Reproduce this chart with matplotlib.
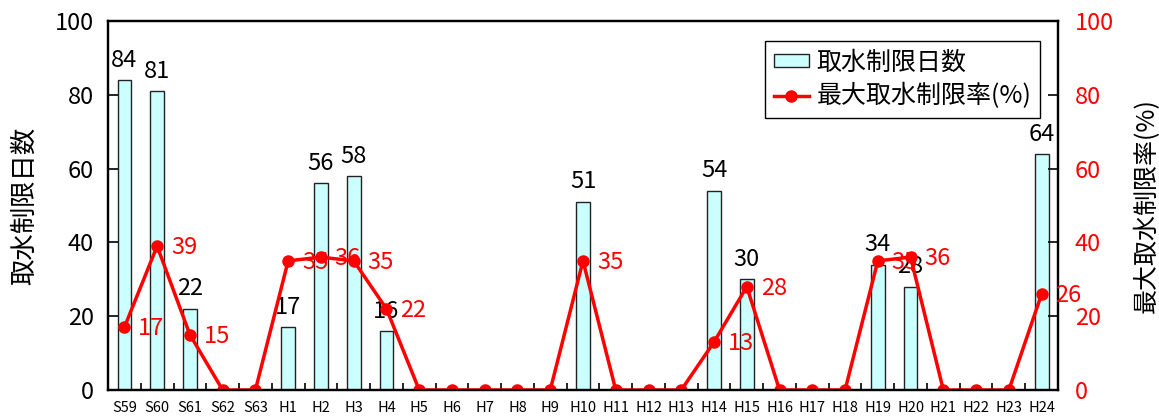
import numpy as np
import matplotlib
matplotlib.use('Agg')
import matplotlib.pyplot as plt
from matplotlib.ticker import FixedLocator

plt.rcParams['font.family'] = ['Noto Sans CJK JP', 'DejaVu Sans']

years = ['S59', 'S60', 'S61', 'S62', 'S63',
         'H1', 'H2', 'H3', 'H4', 'H5', 'H6', 'H7', 'H8', 'H9', 'H10',
         'H11', 'H12', 'H13', 'H14', 'H15', 'H16', 'H17', 'H18', 'H19', 'H20',
         'H21', 'H22', 'H23', 'H24']
days = [84, 81, 22, 0, 0, 17, 56, 58, 16, 0, 0, 0, 0, 0, 51,
        0, 0, 0, 54, 30, 0, 0, 0, 34, 28, 0, 0, 0, 64]
rate = [17, 39, 15, 0, 0, 35, 36, 35, 22, 0, 0, 0, 0, 0, 35,
        0, 0, 0, 13, 28, 0, 0, 0, 35, 36, 0, 0, 0, 26]

x = np.arange(len(years))

fig = plt.figure(figsize=(11.59, 4.16), dpi=100)
ax1 = fig.add_axes([108 / 1159, 26 / 416, 950 / 1159, 369 / 416])
ax2 = ax1.twinx()

bars = ax1.bar(x, days, width=0.42, color='#ccffff', edgecolor='#222222',
               linewidth=1.0, label='取水制限日数')
line, = ax2.plot(x, rate, color='red', lw=2.5, marker='o', ms=8,
                 label='最大取水制限率(%)')

# value labels, only for years with restrictions
for xi, d in zip(x, days):
    if d > 0:
        ax1.annotate(str(d), (xi, d), xytext=(0, 6), textcoords='offset points',
                     ha='center', va='bottom', fontsize=17, color='black')
for xi, r in zip(x, rate):
    if r > 0:
        ax2.annotate(str(r), (xi, r), xytext=(10, -1), textcoords='offset points',
                     ha='left', va='center', fontsize=17, color='red')

for ax in (ax1, ax2):
    ax.set_xlim(-0.5, len(years) - 0.5)
    ax.set_ylim(0, 100)
    ax.set_yticks(range(0, 101, 20))
    for s in ax.spines.values():
        s.set_linewidth(1.6)
        s.set_color('black')

ax1.set_xticks(x)
ax1.set_xticklabels(years, fontsize=10.5)
ax1.xaxis.set_minor_locator(FixedLocator(x[:-1] + 0.5))
ax1.tick_params(axis='x', which='major', length=0, pad=8)
ax1.tick_params(axis='x', which='minor', direction='in', length=5, width=1.2)
ax1.tick_params(axis='y', direction='in', length=7, width=1.2,
                labelsize=17, pad=10)
ax2.tick_params(axis='y', direction='in', length=7, width=1.2,
                labelsize=17, labelcolor='red', pad=12)

ax1.set_ylabel('取水制限日数', fontsize=19, labelpad=12)
ax2.set_ylabel('最大取水制限率(%)', fontsize=18, labelpad=14)

leg = ax2.legend([bars, line], ['取水制限日数', '最大取水制限率(%)'],
                 loc='upper right', bbox_to_anchor=(0.981, 0.946),
                 borderaxespad=0, fontsize=18, fancybox=False,
                 edgecolor='black', framealpha=1, handlelength=1.4,
                 handleheight=0.45, labelspacing=0.3, borderpad=0.35,
                 handletextpad=0.3)
leg.get_frame().set_linewidth(1.0)

fig.savefig('out.png', dpi=100)
